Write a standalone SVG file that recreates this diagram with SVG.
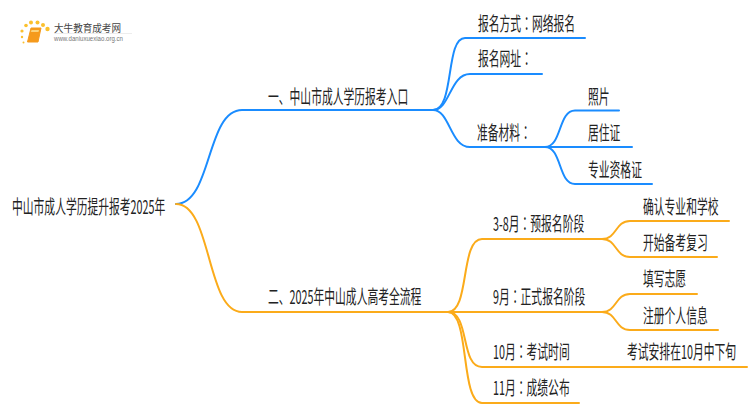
<svg xmlns="http://www.w3.org/2000/svg" width="750" height="410" viewBox="0 0 750 410">
<style>
text{font-family:"Noto Sans CJK SC","Liberation Sans",sans-serif;font-size:19px;fill:#222}
tspan{font-family:"Noto Sans CJK TC","Liberation Sans",sans-serif}
.c{fill:none;stroke-width:2;stroke-linecap:round}
.b{stroke:#1a8cff}
.o{stroke:#fbab1a}
</style>
<rect width="750" height="410" fill="#fff"/>
<g id="logo">
<g fill="#fbc02d">
<circle cx="22" cy="31" r="1.6"/><circle cx="26" cy="25.500" r="1.800"/><circle cx="31" cy="22.500" r="2"/><circle cx="37.500" cy="22.500" r="2"/><circle cx="43" cy="25" r="2"/><circle cx="47.500" cy="29" r="2.200"/><circle cx="22" cy="37" r="1.200"/><circle cx="23.500" cy="42.500" r="1"/>
</g>
<path d="M31 28H41L38 42H27.500Z" fill="#f59a1c" stroke="#f59a1c" stroke-linejoin="round"/>
<path d="M31.500 30H39L38.500 32H31Z" fill="#fbd27a"/>
<text x="54" y="31.500" textLength="67" lengthAdjust="spacingAndGlyphs" style="font-size:10px;fill:#444">大牛教育成考网</text>
<path d="M54 33.500H132" stroke="#e8e8e8" stroke-width="0.800"/>
<text x="54" y="41" textLength="69" lengthAdjust="spacingAndGlyphs" style="font-family:'Liberation Sans',sans-serif;font-size:6.500px;fill:#777">www.daniuxuexiao.org.cn</text>
</g>
<g id="connectors">
<path class="c b" d="M176 204C212 204 206 110 242 110H433"/>
<path class="c b" d="M433 110C455 110 445 38 465 38H585"/>
<path class="c b" d="M433 110C450 110 450 74 470 74H542"/>
<path class="c b" d="M433 110C450 110 450 147 470 147H545"/>
<path class="c b" d="M545 147C562 147 558 110.500 575 110.500H619"/>
<path class="c b" d="M545 147H632"/>
<path class="c b" d="M545 147C562 147 558 184 575 184H652"/>
<path class="c o" d="M176 204C212 204 206 312 242 312H448"/>
<path class="c o" d="M448 312C470 312 460 239 482 239H602"/>
<path class="c o" d="M448 312H602"/>
<path class="c o" d="M448 312C470 312 460 367 482 367H747"/>
<path class="c o" d="M448 312C470 312 460 403 482 403H579"/>
<path class="c o" d="M602 239C617 239 615 221 630 221H729"/>
<path class="c o" d="M602 239C617 239 615 257 630 257H717"/>
<path class="c o" d="M602 312C617 312 615 294 630 294H697"/>
<path class="c o" d="M602 312C617 312 615 330 630 330H718"/>
</g>
<g id="root"><text transform="matrix(.568 0 0 1 12 214)">中山市成人学历提升报考2025年</text></g>
<g id="n1"><text transform="matrix(.568 0 0 1 268 104)">一、中山市成人学历报考入口</text></g>
<g id="n1-1"><text transform="matrix(.568 0 0 1 478 31)">报名方式<tspan>：</tspan>网络报名</text></g>
<g id="n1-2"><text transform="matrix(.568 0 0 1 478 66)">报名网址<tspan>：</tspan></text></g>
<g id="n1-3"><text transform="matrix(.568 0 0 1 477 140)">准备材料<tspan>：</tspan></text></g>
<g id="n1-3-1"><text transform="matrix(.568 0 0 1 588 104)">照片</text></g>
<g id="n1-3-2"><text transform="matrix(.568 0 0 1 588 140)">居住证</text></g>
<g id="n1-3-3"><text transform="matrix(.568 0 0 1 588 177)">专业资格证</text></g>
<g id="n2"><text transform="matrix(.568 0 0 1 268 304)">二、2025年中山成人高考全流程</text></g>
<g id="n2-1"><text transform="matrix(.568 0 0 1 493 231)">3-8月<tspan>：</tspan>预报名阶段</text></g>
<g id="n2-1-1"><text transform="matrix(.568 0 0 1 643 214)">确认专业和学校</text></g>
<g id="n2-1-2"><text transform="matrix(.568 0 0 1 643 250)">开始备考复习</text></g>
<g id="n2-2"><text transform="matrix(.568 0 0 1 493 304)">9月<tspan>：</tspan>正式报名阶段</text></g>
<g id="n2-2-1"><text transform="matrix(.568 0 0 1 643 286)">填写志愿</text></g>
<g id="n2-2-2"><text transform="matrix(.568 0 0 1 643 323)">注册个人信息</text></g>
<g id="n2-3"><text transform="matrix(.568 0 0 1 493 359)">10月<tspan>：</tspan>考试时间</text></g>
<g id="n2-3-1"><text transform="matrix(.568 0 0 1 627 359)">考试安排在10月中下旬</text></g>
<g id="n2-4"><text transform="matrix(.568 0 0 1 493 395)">11月<tspan>：</tspan>成绩公布</text></g>
</svg>
